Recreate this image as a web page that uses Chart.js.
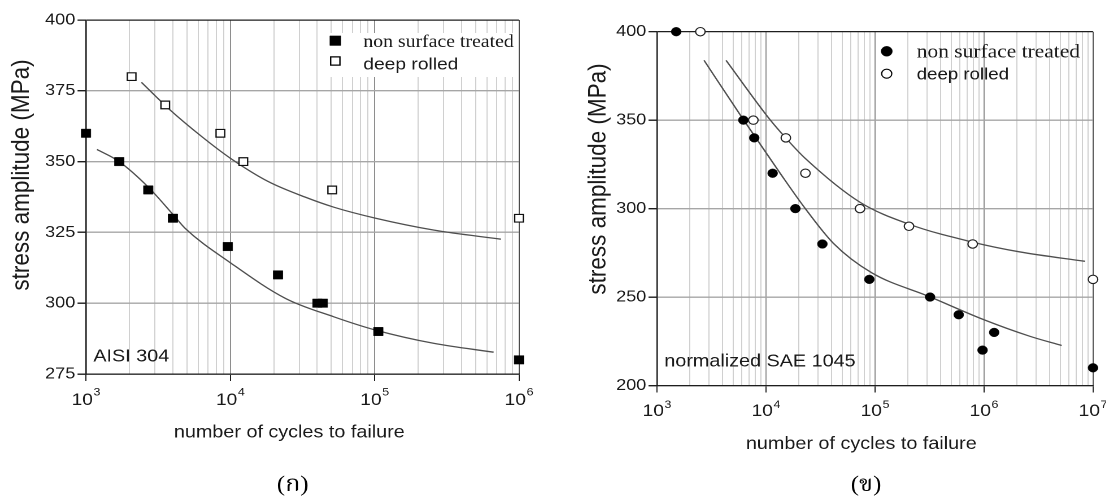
<!DOCTYPE html>
<html>
<head>
<meta charset="utf-8">
<script src="https://cdn.jsdelivr.net/npm/chart.js@4.4.1/dist/chart.umd.min.js"></script>
<style>
  html, body { margin: 0; padding: 0; background: #fff; }
  body { width: 1106px; height: 500px; overflow: hidden; position: relative; }
  .panel { position: absolute; top: 0; width: 490px; height: 500px; transform: scaleX(1.13); transform-origin: 0 0; }
  #panelA { left: 0; }
  #panelB { left: 553px; }
</style>
</head>
<body>
<div class="panel" id="panelA"><canvas id="chartA" width="490" height="500"></canvas></div>
<div class="panel" id="panelB"><canvas id="chartB" width="490" height="500"></canvas></div>
<script>
// ---- (ก) AISI 304 : S-N data ----
const aisiTreatedCycles = [1000, 1700, 2700, 4000, 9600, 21400, 40100, 43700, 106000, 1000000];
const aisiTreatedStress = [360, 350, 340, 330, 320, 310, 300, 300, 290, 280];
const aisiRolledCycles = [2070, 3540, 8530, 12300, 50800, 1000000];
const aisiRolledStress = [380, 370, 360, 350, 340, 330];
const aisiTreatedFitCycles = [1190, 1675, 2710, 4040, 4870, 10000, 24100, 52100, 101600, 258000, 667000];
const aisiTreatedFitStress = [354.3, 350.2, 340.9, 331.1, 326.4, 314.3, 301.7, 295.2, 290.5, 285.8, 282.7];
const aisiRolledFitCycles = [2420, 3830, 6350, 10000, 18400, 33200, 52100, 101600, 258000, 750000];
const aisiRolledFitStress = [378, 368.2, 358.8, 351.2, 342.9, 337.4, 333.9, 330, 325.8, 322.6];
const aisiStressTicks = [275, 300, 325, 350, 375, 400];
const aisiDecades = [3, 4, 5, 6];

// ---- (ข) normalized SAE 1045 : S-N data ----
const saeTreatedCycles = [1500, 6200, 7800, 11500, 18600, 32900, 88700, 320000, 586000, 970000, 1240000, 10000000];
const saeTreatedStress = [400, 350, 340, 320, 300, 280, 260, 250, 240, 220, 230, 210];
const saeRolledCycles = [2500, 7650, 15200, 23000, 72800, 205000, 787000, 10000000];
const saeRolledStress = [400, 350, 340, 320, 300, 290, 280, 260];
const saeTreatedFitCycles = [2700, 6200, 13400, 22800, 41500, 93400, 320000, 986000, 2640000, 5160000];
const saeTreatedFitStress = [383.8, 350.3, 320.2, 300.2, 280.4, 263.7, 250.1, 237.3, 227.8, 222.6];
const saeRolledFitCycles = [4300, 10900, 15600, 22800, 72800, 205000, 792000, 2140000, 8450000];
const saeRolledFitStress = [383.8, 350.2, 339.1, 328.5, 303.6, 291.2, 281, 275.5, 270.2];
const saeStressTicks = [200, 250, 300, 350, 400];
const saeDecades = [3, 4, 5, 6, 7];

const seriesNames = ['non surface treated', 'deep rolled'];
const xTitle = 'number of cycles to failure';
const yTitle = 'stress amplitude (MPa)';

// ---- styling ----
const S = 1.13;                 // horizontal stretch of each panel
const W = 490, H = 500;         // canvas size before stretch
const SANS = '"Liberation Sans", Arial, sans-serif';
const SERIF = '"Liberation Serif", "Times New Roman", serif';
const THAI = '"Liberation Serif", "Noto Serif Thai", "Noto Sans Thai", "Garuda", "Loma", "Norasi", serif';
const TEXT = '#1a1a1a';
const AXIS = '#1e1e1e';
const MAJOR = '#8e8e8e';
const MINOR = '#d0d0d0';
const EDGE = '#4a4a4a';
const HGRID = '#a6a6a6';
const CURVE = '#4f4f4f';

const ix = (x, off) => (x - off) / S;

function isDecade(v) {
  const l = Math.log10(v);
  return Math.abs(l - Math.round(l)) < 1e-6;
}
function logTicks(decades) {
  const out = [];
  decades.forEach((d, i) => {
    const base = Math.pow(10, d);
    if (i === decades.length - 1) { out.push(base); return; }
    for (let k = 1; k <= 9; k++) out.push(k * base);
  });
  return out;
}
const pts = (xs, ys) => xs.map((x, i) => ({ x, y: ys[i] }));

function drawMarker(ctx, m) {
  ctx.beginPath();
  if (m.shape === 'rect') ctx.rect(m.x - m.size / 2, m.y - m.size / 2, m.size, m.size);
  else ctx.arc(m.x, m.y, m.size / 2, 0, Math.PI * 2);
  ctx.fillStyle = m.filled ? '#000' : '#fff';
  ctx.fill();
  ctx.lineWidth = m.lw;
  ctx.strokeStyle = '#000';
  ctx.stroke();
}

function decor(spec) {
  return {
    id: 'decor',
    beforeDatasetsDraw(chart) {
      if (!spec.legendBox) return;
      const b = spec.legendBox;
      chart.ctx.save();
      chart.ctx.fillStyle = '#fff';
      chart.ctx.fillRect(b.x0, b.y0, b.x1 - b.x0, b.y1 - b.y0);
      chart.ctx.restore();
    },
    afterDraw(chart) {
      const ctx = chart.ctx;
      const ca = chart.chartArea;
      const xs = chart.scales.x;
      ctx.save();
      ctx.fillStyle = TEXT;
      ctx.textBaseline = 'alphabetic';

      // decade labels 10^n
      spec.decades.forEach(e => {
        const x = xs.getPixelForValue(Math.pow(10, e));
        const exp = String(e);
        ctx.font = '17px ' + SANS;
        const w1 = ctx.measureText('10').width;
        ctx.font = '11px ' + SANS;
        const w2 = ctx.measureText(exp).width;
        const x0 = x - (w1 + w2 + 0.5) / 2;
        ctx.textAlign = 'left';
        ctx.font = '17px ' + SANS;
        ctx.fillText('10', x0, ca.bottom + spec.tickBase);
        ctx.font = '11px ' + SANS;
        ctx.fillText(exp, x0 + w1 + 0.5, ca.bottom + spec.supBase);
      });

      // axis titles
      ctx.textAlign = 'center';
      ctx.font = '17.5px ' + SANS;
      ctx.fillText(xTitle, spec.xTitle.x, spec.xTitle.y);
      ctx.save();
      ctx.translate(spec.yTitle.x, spec.yTitle.y);
      ctx.rotate(-Math.PI / 2);
      ctx.font = '22.5px ' + SANS;
      ctx.fillText(yTitle, 0, 0);
      ctx.restore();

      // material annotation
      ctx.textAlign = 'left';
      ctx.font = '17.5px ' + SANS;
      ctx.fillText(spec.note.text, spec.note.x, spec.note.y);

      // legend
      spec.legend.forEach((item, i) => {
        drawMarker(ctx, item.marker);
        ctx.fillStyle = TEXT;
        ctx.textAlign = 'left';
        ctx.font = item.font;
        ctx.fillText(seriesNames[i], item.tx, item.ty);
      });

      // panel caption
      ctx.fillStyle = '#000';
      ctx.textAlign = 'center';
      ctx.font = '22px ' + THAI;
      ctx.fillText(spec.caption.text, spec.caption.x, spec.caption.y);
      ctx.restore();
    }
  };
}

function makeChart(canvasId, spec) {
  const area = spec.area;
  const xTickValues = logTicks(spec.decades);
  const firstX = Math.pow(10, spec.decades[0]);
  const lastX = Math.pow(10, spec.decades[spec.decades.length - 1]);
  const topY = spec.yTicks[spec.yTicks.length - 1];
  return new Chart(document.getElementById(canvasId), {
    type: 'scatter',
    data: { datasets: spec.datasets },
    options: {
      responsive: false,
      animation: false,
      devicePixelRatio: 2,
      events: [],
      layout: { padding: { left: 0, top: area.top, right: W - area.right, bottom: 0 } },
      plugins: { legend: { display: false }, tooltip: { enabled: false } },
      scales: {
        x: {
          type: 'logarithmic',
          min: firstX,
          max: lastX,
          afterBuildTicks: s => { s.ticks = xTickValues.map(v => ({ value: v, major: isDecade(v) })); },
          afterFit: s => { s.height = H - area.bottom; },
          ticks: { display: false },
          grid: {
            color: c => {
              const v = c.tick && c.tick.value;
              if (!v) return MINOR;
              if (v === lastX) return EDGE;
              return isDecade(v) ? MAJOR : MINOR;
            },
            lineWidth: 1,
            tickColor: c => (c.tick && isDecade(c.tick.value)) ? AXIS : 'rgba(0,0,0,0)',
            tickLength: 7
          },
          border: { display: true, color: AXIS, width: 1.3 }
        },
        y: {
          type: 'linear',
          min: spec.yTicks[0],
          max: topY,
          afterBuildTicks: s => { s.ticks = spec.yTicks.map(v => ({ value: v })); },
          afterFit: s => { s.width = area.left; },
          ticks: { font: { family: SANS, size: 16 }, color: TEXT, padding: 2 },
          grid: {
            color: c => (c.tick && c.tick.value === topY) ? AXIS : HGRID,
            lineWidth: c => (c.tick && c.tick.value === topY) ? 1.3 : 1.4,
            tickColor: AXIS,
            tickLength: 7.5
          },
          border: { display: true, color: AXIS, width: 1.3 }
        }
      }
    },
    plugins: [decor(spec)]
  });
}

function curve(xs, ys) {
  return {
    data: pts(xs, ys), showLine: true, pointRadius: 0, borderColor: CURVE,
    borderWidth: 1.3, cubicInterpolationMode: 'monotone', fill: false, order: 1, clip: false
  };
}

// ---- panel (ก) ----
const offA = 0;
makeChart('chartA', {
  area: { left: ix(86, offA), right: ix(519, offA), top: 20, bottom: 374 },
  decades: aisiDecades,
  yTicks: aisiStressTicks,
  tickBase: 31, supBase: 21.7,
  datasets: [
    { label: seriesNames[0], data: pts(aisiTreatedCycles, aisiTreatedStress), pointStyle: 'rect',
      pointRadius: 6, backgroundColor: '#000', borderColor: '#000', borderWidth: 0.4, showLine: false, order: 0, clip: false },
    { label: seriesNames[1], data: pts(aisiRolledCycles, aisiRolledStress), pointStyle: 'rect',
      pointRadius: 5.4, backgroundColor: '#fff', borderColor: '#111', borderWidth: 1.2, showLine: false, order: 0, clip: false },
    curve(aisiTreatedFitCycles, aisiTreatedFitStress),
    curve(aisiRolledFitCycles, aisiRolledFitStress)
  ],
  legendBox: { x0: ix(325, offA), y0: 33, x1: ix(517.5, offA), y1: 77 },
  legend: [
    { marker: { shape: 'rect', x: ix(335.3, offA), y: 40.7, size: 9.6, filled: true, lw: 0.4 },
      tx: ix(363.3, offA), ty: 47, font: '17.5px ' + SERIF },
    { marker: { shape: 'rect', x: ix(335.3, offA), y: 61, size: 8.2, filled: false, lw: 1.2 },
      tx: ix(363.3, offA), ty: 69.5, font: '17px ' + SANS }
  ],
  note: { text: 'AISI 304', x: ix(93.3, offA), y: 361.7 },
  xTitle: { x: ix(289.3, offA), y: 437.5 },
  yTitle: { x: 25.5, y: 175 },
  caption: { text: '(ก)', x: ix(292.7, offA), y: 491 }
});

// ---- panel (ข) ----
const offB = 553;
makeChart('chartB', {
  area: { left: ix(657, offB), right: ix(1093, offB), top: 31.7, bottom: 385.5 },
  decades: saeDecades,
  yTicks: saeStressTicks,
  tickBase: 30.5, supBase: 22.5,
  datasets: [
    { label: seriesNames[0], data: pts(saeTreatedCycles, saeTreatedStress), pointStyle: 'circle',
      pointRadius: 4.4, backgroundColor: '#000', borderColor: '#000', borderWidth: 0.4, showLine: false, order: 0, clip: false },
    { label: seriesNames[1], data: pts(saeRolledCycles, saeRolledStress), pointStyle: 'circle',
      pointRadius: 4.2, backgroundColor: '#fff', borderColor: '#222', borderWidth: 1.1, showLine: false, order: 0, clip: false },
    curve(saeTreatedFitCycles, saeTreatedFitStress),
    curve(saeRolledFitCycles, saeRolledFitStress)
  ],
  legendBox: null,
  legend: [
    { marker: { shape: 'circle', x: ix(886.7, offB), y: 51.3, size: 10, filled: true, lw: 0.4 },
      tx: ix(916.7, offB), ty: 57.3, font: '19px ' + SERIF },
    { marker: { shape: 'circle', x: ix(886.7, offB), y: 73.7, size: 9, filled: false, lw: 1.1 },
      tx: ix(916.7, offB), ty: 79.7, font: '16.5px ' + SANS }
  ],
  note: { text: 'normalized SAE 1045', x: ix(664.3, offB), y: 366.7 },
  xTitle: { x: ix(861.3, offB), y: 449 },
  yTitle: { x: 46.4, y: 179 },
  caption: { text: '(ข)', x: ix(866, offB), y: 491 }
});
</script>
</body>
</html>
